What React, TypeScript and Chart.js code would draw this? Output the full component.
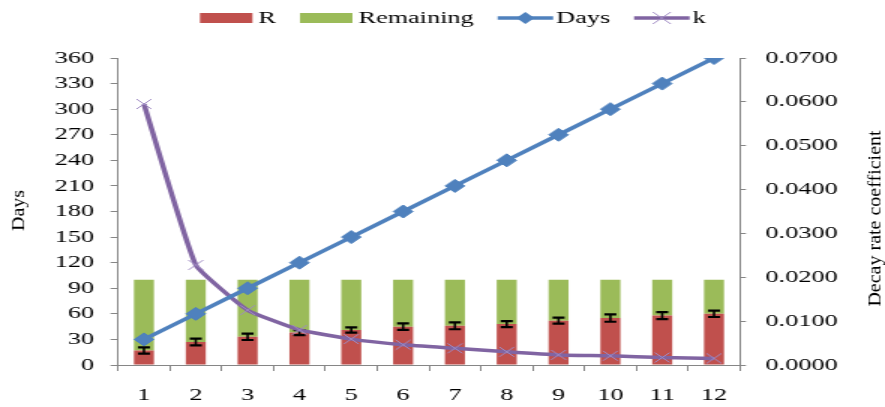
import React, { useEffect, useRef } from 'react';
import { Chart, registerables } from 'chart.js';

Chart.register(...registerables);

// ---- data ----
const categories = ['1', '2', '3', '4', '5', '6', '7', '8', '9', '10', '11', '12'];
const rValues = [17, 27, 33, 38, 41, 45, 46, 48, 52, 55, 58, 60];
const remainingValues = [83, 73, 67, 62, 59, 55, 54, 52, 48, 45, 42, 40];
const rErrors = [3.7, 3.9, 3.7, 3.0, 3.1, 3.7, 4.1, 3.5, 3.5, 4.3, 4.1, 3.7];
const daysValues = [30, 60, 90, 120, 150, 180, 210, 240, 270, 300, 330, 360];
const kValues = [0.0595, 0.0228, 0.0125, 0.008, 0.0059, 0.0046, 0.0038, 0.003, 0.0023, 0.0021, 0.0017, 0.0015];
const leftTitle = 'Days';
const rightTitle = 'Decay rate coefficient';

// ---- styling ----
const SX = 1.5; // horizontal stretch of the picture
const W = 885;
const H = 407;
const IW = W / SX;
const FONT = "'Liberation Serif', 'Times New Roman', serif";
const RED = '#C0504D';
const GREEN = '#9BBB59';
const BLUE = '#4F81BD';
const PURPLE = '#8064A2';
const AXIS = '#868686';

const errorBarPlugin = {
  id: 'errorBars',
  afterDatasetDraw(chart: any, args: any) {
    if (args.index !== 0) return;
    const { ctx, scales } = chart;
    const xs = scales.x;
    const ys = scales.y;
    ctx.save();
    ctx.strokeStyle = '#000';
    rValues.forEach((v, i) => {
      const x = xs.getPixelForValue(i);
      const yt = ys.getPixelForValue(v + rErrors[i]);
      const yb = ys.getPixelForValue(v - rErrors[i]);
      ctx.lineWidth = 1.6;
      ctx.beginPath();
      ctx.moveTo(x, yt);
      ctx.lineTo(x, yb);
      ctx.stroke();
      ctx.lineWidth = 2.2;
      ctx.beginPath();
      ctx.moveTo(x - 4, yt);
      ctx.lineTo(x + 4, yt);
      ctx.moveTo(x - 4, yb);
      ctx.lineTo(x + 4, yb);
      ctx.stroke();
    });
    ctx.restore();
  },
};

const legendTitlePlugin = {
  id: 'legendTitles',
  afterDraw(chart: any) {
    const { ctx } = chart;
    ctx.save();
    ctx.font = `17.5px ${FONT}`;
    ctx.textBaseline = 'middle';
    ctx.textAlign = 'left';
    const y = 18;
    let x = 133.3;
    chart.data.datasets.forEach((ds: any) => {
      if (ds.type === 'bar') {
        ctx.fillStyle = ds.backgroundColor;
        ctx.fillRect(x, y - 5, 35, 10);
        x += 35 + 4;
      } else {
        const lw = 37;
        ctx.strokeStyle = ds.borderColor;
        ctx.lineWidth = 3.5;
        ctx.beginPath();
        ctx.moveTo(x, y);
        ctx.lineTo(x + lw, y);
        ctx.stroke();
        const cx = x + lw / 2;
        if (ds.pointStyle === 'rectRot') {
          ctx.fillStyle = ds.borderColor;
          ctx.beginPath();
          ctx.moveTo(cx - 6, y);
          ctx.lineTo(cx, y - 6);
          ctx.lineTo(cx + 6, y);
          ctx.lineTo(cx, y + 6);
          ctx.closePath();
          ctx.fill();
        } else {
          ctx.strokeStyle = ds.pointBorderColor;
          ctx.lineWidth = 1;
          ctx.beginPath();
          ctx.moveTo(cx - 6, y - 6);
          ctx.lineTo(cx + 6, y + 6);
          ctx.moveTo(cx - 6, y + 6);
          ctx.lineTo(cx + 6, y - 6);
          ctx.stroke();
        }
        x += lw + 2;
      }
      ctx.fillStyle = '#000';
      ctx.fillText(ds.label, x, y);
      x += ctx.measureText(ds.label).width + 16;
    });

    // rotated axis titles, drawn without the horizontal stretch
    const area = chart.chartArea;
    ctx.scale(1 / SX, 1);
    ctx.font = `20px ${FONT}`;
    ctx.textAlign = 'center';
    ctx.textBaseline = 'middle';
    ctx.fillStyle = '#000';
    ctx.save();
    ctx.translate(19, (area.top + area.bottom) / 2 - 1);
    ctx.rotate(-Math.PI / 2);
    ctx.fillText(leftTitle, 0, 0);
    ctx.restore();
    ctx.save();
    ctx.translate(W - 10.5, (area.top + area.bottom) / 2 + 7);
    ctx.rotate(-Math.PI / 2);
    ctx.fillText(rightTitle, 0, 0);
    ctx.restore();
    ctx.restore();
  },
};

export default function App() {
  const ref = useRef<HTMLCanvasElement | null>(null);

  useEffect(() => {
    const canvas = ref.current;
    if (!canvas) return;
    const tickFont = { family: FONT, size: 17.5 };
    const chart = new Chart(canvas, {
      type: 'bar',
      data: {
        labels: categories,
        datasets: [
          {
            type: 'bar',
            label: 'R',
            data: rValues,
            backgroundColor: RED,
            yAxisID: 'y',
            order: 1,
            barPercentage: 0.386,
            categoryPercentage: 1,
          },
          {
            type: 'bar',
            label: 'Remaining',
            data: remainingValues,
            backgroundColor: GREEN,
            yAxisID: 'y',
            order: 1,
            barPercentage: 0.386,
            categoryPercentage: 1,
          },
          {
            type: 'line',
            label: 'Days',
            data: daysValues,
            borderColor: BLUE,
            backgroundColor: BLUE,
            borderWidth: 3.5,
            pointStyle: 'rectRot',
            pointRadius: 6.5,
            pointBackgroundColor: BLUE,
            pointBorderColor: BLUE,
            pointBorderWidth: 1,
            yAxisID: 'y',
            stack: 'days',
            order: 0,
            tension: 0,
          },
          {
            type: 'line',
            label: 'k',
            data: kValues,
            borderColor: PURPLE,
            backgroundColor: PURPLE,
            borderWidth: 3.5,
            pointStyle: 'crossRot',
            pointRadius: 7,
            pointBorderColor: '#A08CC4',
            pointBorderWidth: 1,
            yAxisID: 'y1',
            order: 0,
            tension: 0.12,
          },
        ],
      } as any,
      options: {
        responsive: false,
        animation: false,
        devicePixelRatio: 1,
        layout: { padding: { top: 58, left: 0, right: 0, bottom: 0 } },
        plugins: {
          legend: { display: false },
          tooltip: { enabled: false },
        },
        scales: {
          x: {
            offset: true,
            stacked: true,
            grid: {
              offset: true,
              drawOnChartArea: false,
              drawTicks: true,
              tickLength: 6,
              color: AXIS,
            },
            border: { color: AXIS, width: 1 },
            ticks: { font: tickFont, color: '#000', padding: 14, maxRotation: 0 },
            afterFit: (s: any) => {
              s.height = 42;
            },
          },
          y: {
            position: 'left',
            stacked: true,
            min: 0,
            max: 360,
            ticks: { stepSize: 30, font: tickFont, color: '#000', padding: 11 },
            grid: { drawOnChartArea: false, drawTicks: true, tickLength: 5, color: AXIS },
            border: { color: AXIS, width: 1 },
            afterFit: (s: any) => {
              s.width = 78.7;
            },
          },
          y1: {
            position: 'right',
            min: 0,
            max: 0.07,
            ticks: {
              stepSize: 0.01,
              font: tickFont,
              color: '#000',
              padding: 13,
              callback: (v: any) => Number(v).toFixed(4),
            },
            grid: { drawOnChartArea: false, drawTicks: true, tickLength: 4, color: AXIS },
            border: { color: AXIS, width: 1 },
            afterFit: (s: any) => {
              s.width = IW - 493.3;
            },
          },
        },
      } as any,
      plugins: [errorBarPlugin, legendTitlePlugin],
    });
    return () => chart.destroy();
  }, []);

  return (
    <div style={{ position: 'absolute', left: 0, top: 0, width: W, height: H, background: '#fff' }}>
      <canvas ref={ref} width={IW} height={H} style={{ width: `${W}px`, height: `${H}px`, display: 'block' }} />
    </div>
  );
}
